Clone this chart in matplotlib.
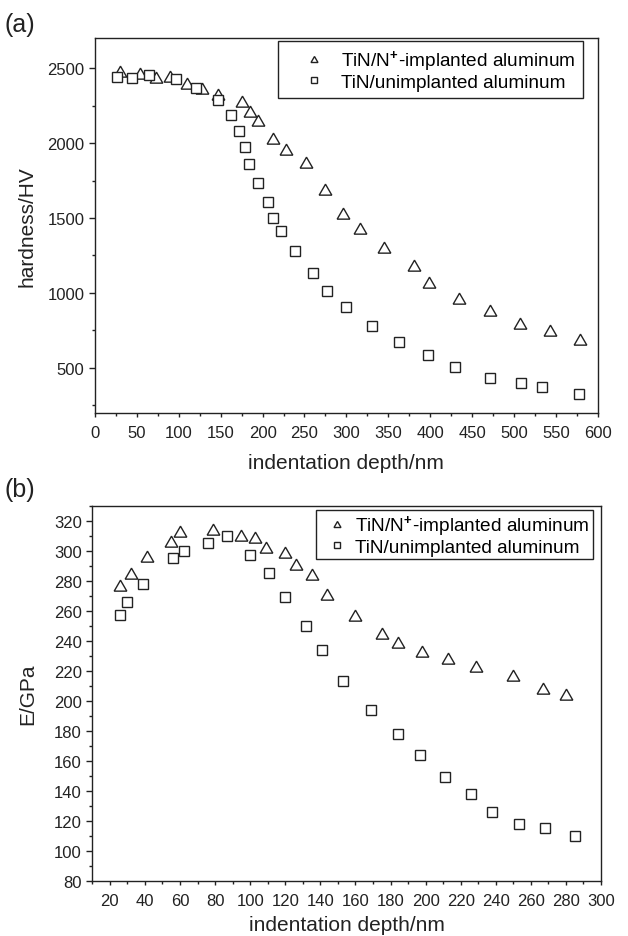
import matplotlib
matplotlib.use("Agg")
import matplotlib.pyplot as plt
from matplotlib.ticker import MultipleLocator

plt.rcParams['font.family'] = ['Liberation Sans', 'DejaVu Sans']
plt.rcParams['mathtext.fontset'] = 'custom'
plt.rcParams['mathtext.rm'] = 'Liberation Sans'
plt.rcParams['mathtext.bf'] = 'Liberation Sans:bold'

# (a) hardness vs depth
a_impl_x = [30, 54, 73, 90, 110, 128, 147, 175, 185, 195, 213, 228, 252, 275, 296, 316,
            345, 381, 399, 435, 471, 507, 543, 579]
a_impl_y = [2470, 2455, 2430, 2432, 2390, 2358, 2318, 2265, 2198, 2142, 2020, 1950, 1858,
            1680, 1518, 1418, 1292, 1170, 1062, 952, 870, 785, 736, 676]
a_unimp_x = [26, 44, 64, 97, 120, 147, 162, 172, 179, 184, 195, 207, 213, 222, 239, 260,
             277, 299, 331, 363, 397, 430, 471, 509, 533, 578]
a_unimp_y = [2442, 2438, 2453, 2431, 2368, 2286, 2190, 2079, 1974, 1862, 1733, 1606, 1501,
             1412, 1278, 1133, 1015, 904, 776, 674, 587, 502, 429, 397, 373, 324]

# (b) modulus vs depth
b_impl_x = [26, 32, 41, 55, 60, 79, 95, 103, 109, 120, 126, 135, 144, 160, 175, 184, 198,
            213, 229, 250, 267, 280]
b_impl_y = [276, 284, 295, 305, 312, 313, 309, 308, 301, 298, 290, 283, 270, 256, 244, 238,
            232, 227, 222, 216, 207, 203]
b_unimp_x = [26, 30, 39, 56, 62, 76, 87, 100, 111, 120, 132, 141, 153, 169, 184, 197, 211,
             226, 238, 253, 268, 285]
b_unimp_y = [257, 266, 278, 295, 300, 305, 310, 297, 285, 269, 250, 234, 213, 194, 178, 164,
             149, 138, 126, 118, 115, 110]

lab_impl = 'TiN/N$^{\\mathbf{+}}$-implanted aluminum'
lab_unimp = 'TiN/unimplanted aluminum'

ink = '#222222'
W, H = 628, 937
fig = plt.figure(figsize=(W / 100, H / 100), dpi=100)


def box(l, t, r, b):
    return [l / W, 1 - b / H, (r - l) / W, (b - t) / H]


def style(ax):
    for s in ax.spines.values():
        s.set_color(ink)
        s.set_linewidth(1.0)
    ax.tick_params(which='both', direction='out', colors=ink, labelsize=12,
                   top=False, right=False, width=1.0)
    ax.tick_params(axis='y', which='major', length=4.5, pad=3)
    ax.tick_params(axis='y', which='minor', length=2.5)
    ax.tick_params(axis='x', which='major', length=3, pad=6)
    ax.tick_params(axis='x', which='minor', length=2.5)


tri = (3, 0, 0)

ax1 = fig.add_axes(box(95, 39.3, 597.7, 413.7))
ax1.plot(a_impl_x, a_impl_y, ls='none', marker=tri, ms=10.5, mfc='white', mec=ink,
         mew=1.0, label=lab_impl)
ax1.plot(a_unimp_x, a_unimp_y, ls='none', marker='s', ms=7.5, mfc='white', mec=ink,
         mew=1.0, label=lab_unimp)
ax1.set_xlim(0, 600)
ax1.set_ylim(200, 2700)
ax1.set_xticks(range(0, 601, 50))
ax1.set_yticks([500, 1000, 1500, 2000, 2500])
ax1.xaxis.set_minor_locator(MultipleLocator(25))
ax1.yaxis.set_minor_locator(MultipleLocator(250))
style(ax1)
ax1.set_xlabel('indentation depth/nm', fontsize=15, color=ink, labelpad=9)
ax1.set_ylabel('hardness/HV', fontsize=15, color=ink, labelpad=8)
leg1 = ax1.legend(loc='upper right', bbox_to_anchor=(0.9708, 0.9928), borderaxespad=0,
                  fontsize=13.7, markerscale=0.55, handlelength=2.9, handletextpad=0.0,
                  labelspacing=0.0, borderpad=0.4, fancybox=False, framealpha=1,
                  edgecolor=ink)
leg1.get_frame().set_linewidth(1.0)
fig.text(5 / W, 1 - 25 / H, '(a)', fontsize=18, color=ink, va='center', ha='left')

ax2 = fig.add_axes(box(92.3, 506.7, 601, 881.7))
ax2.plot(b_impl_x, b_impl_y, ls='none', marker=tri, ms=10.5, mfc='white', mec=ink,
         mew=1.0, label=lab_impl)
ax2.plot(b_unimp_x, b_unimp_y, ls='none', marker='s', ms=7.5, mfc='white', mec=ink,
         mew=1.0, label=lab_unimp)
ax2.set_xlim(10, 300)
ax2.set_ylim(80, 330)
ax2.set_xticks(range(20, 301, 20))
ax2.set_yticks(range(80, 321, 20))
ax2.xaxis.set_minor_locator(MultipleLocator(10))
ax2.yaxis.set_minor_locator(MultipleLocator(10))
style(ax2)
ax2.set_xlabel('indentation depth/nm', fontsize=15, color=ink, labelpad=5)
ax2.set_ylabel('E/GPa', fontsize=15, color=ink, labelpad=12)
leg2 = ax2.legend(loc='upper right', bbox_to_anchor=(0.9835, 0.9893), borderaxespad=0,
                  fontsize=13.7, markerscale=0.55, handlelength=1.8, handletextpad=0.05,
                  labelspacing=0.0, borderpad=0.2, fancybox=False, framealpha=1,
                  edgecolor=ink)
leg2.get_frame().set_linewidth(1.0)
fig.text(5 / W, 1 - 490 / H, '(b)', fontsize=18, color=ink, va='center', ha='left')

fig.savefig('out.png', dpi=100)
